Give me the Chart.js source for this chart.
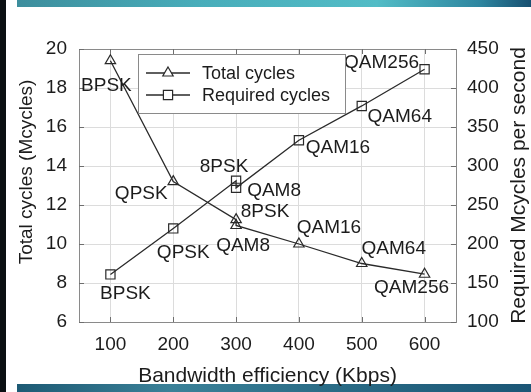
<!DOCTYPE html>
<html>
<head>
<meta charset="utf-8">
<script src="https://cdn.jsdelivr.net/npm/chart.js@4.4.1/dist/chart.umd.min.js"></script>
<style>
  html, body { margin: 0; padding: 0; background: #fff; }
  #wrap { position: relative; width: 531px; height: 392px; overflow: hidden; background: #fff; }
  .band-top { position: absolute; left: 17px; top: 0; width: 514px; height: 7px;
    background: linear-gradient(90deg, #3d8e9d 0%, #48adba 35%, #52bcc6 70%, #2e86a0 90%, #174f70 100%); }
  .band-bottom { position: absolute; left: 17px; bottom: 0; width: 514px; height: 8px;
    background: linear-gradient(90deg, #1d5a74 0%, #3b8198 30%, #2a6c86 60%, #1b5676 100%); }
  .strip-left { position: absolute; left: 0; top: 0; width: 6px; height: 392px; background: #0b0f12; }
  canvas { position: absolute; left: 0; top: 0; }
</style>
</head>
<body>
<div id="wrap">
  <div class="band-top"></div>
  <div class="band-bottom"></div>
  <div class="strip-left"></div>
  <canvas id="c" width="531" height="392"></canvas>
</div>
<script>
// Bandwidth efficiency (Kbps) for each modulation scheme
const bandwidth = [100, 200, 300, 300, 400, 500, 600];
const modulations = ['BPSK', 'QPSK', '8PSK', 'QAM8', 'QAM16', 'QAM64', 'QAM256'];
// Total cycles (Mcycles), left axis
const totalCycles = [19.4, 13.2, 11.25, 10.95, 10.0, 9.0, 8.45];
// Required Mcycles per second, right axis
const requiredCycles = [161, 220, 281, 272, 333, 377, 424];
// Axis ticks
const xTicks = [100, 200, 300, 400, 500, 600];
const leftTicks = [6, 8, 10, 12, 14, 16, 18, 20];
const rightTicks = [100, 150, 200, 250, 300, 350, 400, 450];

const FONT = '"Liberation Sans", Arial, sans-serif';
const INK = '#1c1c1c';
const LINE = '#2a2a2a';

// Point-label placement (text centre relative to the point, px)
const totalLabelOffsets = [[-4, 25], [-32, 12], [29, -8], [7, 20], [30, -16], [32, -15], [-13, 14]];
const requiredLabelOffsets = [[15, 19], [10, 24], [-12, -14], [38, 3], [39, 8], [38, 11], [-43, -7]];

function drawVerticalTitle(ctx, text, x, y, size) {
  ctx.save();
  ctx.translate(x, y);
  ctx.rotate(-Math.PI / 2);
  ctx.fillStyle = INK;
  ctx.font = size + 'px ' + FONT;
  ctx.textAlign = 'center';
  ctx.textBaseline = 'middle';
  ctx.fillText(text, 0, 0);
  ctx.restore();
}

const decorations = {
  id: 'decorations',
  afterDraw(chart) {
    const ctx = chart.ctx;
    const a = chart.chartArea;
    const sx = chart.scales.x, sy = chart.scales.y, sy1 = chart.scales.y1;
    ctx.save();

    // plot frame
    ctx.strokeStyle = '#8a8a8a';
    ctx.lineWidth = 1;
    ctx.strokeRect(Math.round(a.left) + 0.5, Math.round(a.top) + 0.5,
                   Math.round(a.right - a.left), Math.round(a.bottom - a.top));

    // inward tick marks
    ctx.strokeStyle = '#6e6e6e';
    ctx.beginPath();
    xTicks.forEach(v => {
      const px = Math.round(sx.getPixelForValue(v)) + 0.5;
      ctx.moveTo(px, a.top); ctx.lineTo(px, a.top + 5);
      ctx.moveTo(px, a.bottom); ctx.lineTo(px, a.bottom - 5);
    });
    leftTicks.forEach(v => {
      const py = Math.round(sy.getPixelForValue(v)) + 0.5;
      ctx.moveTo(a.left, py); ctx.lineTo(a.left + 5, py);
    });
    rightTicks.forEach(v => {
      const py = Math.round(sy1.getPixelForValue(v)) + 0.5;
      ctx.moveTo(a.right, py); ctx.lineTo(a.right - 5, py);
    });
    ctx.stroke();

    // point labels
    ctx.fillStyle = INK;
    ctx.font = '19px ' + FONT;
    ctx.textAlign = 'center';
    ctx.textBaseline = 'middle';
    const offsetsByDataset = [totalLabelOffsets, requiredLabelOffsets];
    chart.data.datasets.forEach((ds, di) => {
      const meta = chart.getDatasetMeta(di);
      meta.data.forEach((pt, i) => {
        const [dx, dy] = offsetsByDataset[di][i];
        ctx.fillText(modulations[i], pt.x + dx, pt.y + dy);
      });
    });

    // legend box
    const bx = a.left + 59, by = a.top + 5, bw = 207, bh = 59;
    ctx.fillStyle = '#ffffff';
    ctx.fillRect(bx, by, bw, bh);
    ctx.strokeStyle = '#8a8a8a';
    ctx.lineWidth = 1;
    ctx.strokeRect(Math.round(bx) + 0.5, Math.round(by) + 0.5, bw, bh);
    chart.data.datasets.forEach((ds, di) => {
      const ly = by + 19 + di * 22;
      ctx.strokeStyle = LINE;
      ctx.lineWidth = 1.3;
      ctx.beginPath();
      ctx.moveTo(bx + 8, ly); ctx.lineTo(bx + 52, ly);
      ctx.stroke();
      ctx.fillStyle = '#ffffff';
      ctx.lineWidth = 1.2;
      Chart.helpers.drawPoint(ctx, {
        pointStyle: ds.pointStyle, radius: ds.pointRadius, rotation: 0, borderWidth: 1.2
      }, bx + 30, ly);
      ctx.fillStyle = INK;
      ctx.font = '18px ' + FONT;
      ctx.textAlign = 'left';
      ctx.textBaseline = 'middle';
      ctx.fillText(ds.label, bx + 64, ly + 1);
    });

    // axis titles, reading bottom to top
    drawVerticalTitle(ctx, 'Total cycles (Mcycles)', 27, 172, 19);
    drawVerticalTitle(ctx, 'Required Mcycles per second', 519, (a.top + a.bottom) / 2, 21);

    ctx.restore();
  }
};

const toPoints = (ys) => ys.map((y, i) => ({ x: bandwidth[i], y }));

new Chart(document.getElementById('c'), {
  type: 'line',
  data: {
    datasets: [
      {
        label: 'Total cycles',
        data: toPoints(totalCycles),
        yAxisID: 'y',
        borderColor: LINE,
        borderWidth: 1.3,
        pointStyle: 'triangle',
        pointRadius: 6,
        pointBorderWidth: 1.2,
        pointBackgroundColor: 'rgba(255,255,255,0)',
        pointBorderColor: LINE,
        tension: 0,
        fill: false
      },
      {
        label: 'Required cycles',
        data: toPoints(requiredCycles),
        yAxisID: 'y1',
        borderColor: LINE,
        borderWidth: 1.3,
        pointStyle: 'rect',
        pointRadius: 6.5,
        pointBorderWidth: 1.2,
        pointBackgroundColor: 'rgba(255,255,255,0)',
        pointBorderColor: LINE,
        tension: 0,
        fill: false
      }
    ]
  },
  options: {
    responsive: false,
    animation: false,
    devicePixelRatio: 1,
    layout: { padding: { top: 49, left: 0, right: 0, bottom: 0 } },
    plugins: { legend: { display: false }, tooltip: { enabled: false } },
    scales: {
      x: {
        type: 'linear',
        min: 50, max: 650,
        afterBuildTicks: s => { s.ticks = xTicks.map(v => ({ value: v })); },
        afterFit: s => { s.height = 70; },
        grid: { color: '#dcdcdc', lineWidth: 1, drawTicks: false },
        border: { display: false },
        ticks: { color: INK, font: { family: FONT, size: 19 }, padding: 11, maxRotation: 0 },
        title: { display: true, text: 'Bandwidth efficiency (Kbps)', color: INK,
                 font: { family: FONT, size: 21 }, padding: { top: 0, bottom: 3 } }
      },
      y: {
        position: 'left',
        min: 6, max: 20,
        afterBuildTicks: s => { s.ticks = leftTicks.map(v => ({ value: v })); },
        afterFit: s => { s.width = 79; },
        grid: { color: '#dcdcdc', lineWidth: 1, drawTicks: false },
        border: { display: false },
        ticks: { color: INK, font: { family: FONT, size: 19 }, padding: 12 }
      },
      y1: {
        position: 'right',
        min: 100, max: 450,
        afterBuildTicks: s => { s.ticks = rightTicks.map(v => ({ value: v })); },
        afterFit: s => { s.width = 75; },
        grid: { drawOnChartArea: false, drawTicks: false },
        border: { display: false },
        ticks: { color: INK, font: { family: FONT, size: 19 }, padding: 11 }
      }
    }
  },
  plugins: [decorations]
});
</script>
</body>
</html>
